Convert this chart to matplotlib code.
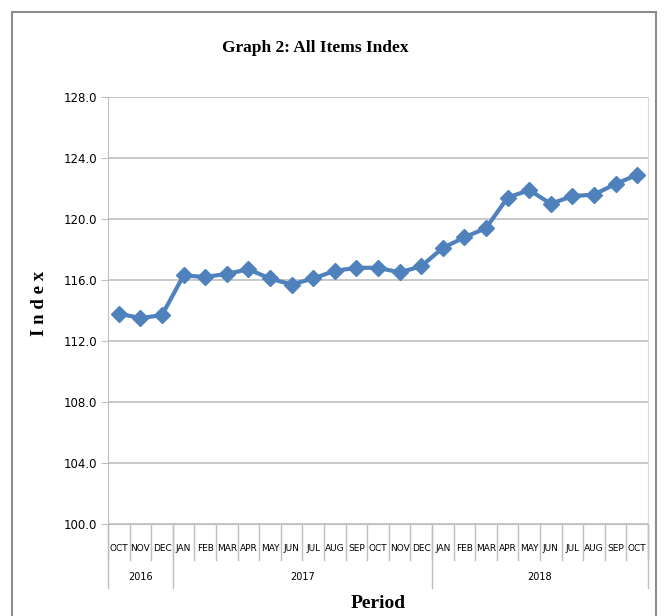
import matplotlib
matplotlib.use("Agg")
import matplotlib.pyplot as plt
import numpy as np
from matplotlib import font_manager
from matplotlib.patches import Rectangle
from matplotlib.transforms import blended_transform_factory

months = ["OCT", "NOV", "DEC", "JAN", "FEB", "MAR", "APR", "MAY", "JUN", "JUL", "AUG", "SEP",
          "OCT", "NOV", "DEC", "JAN", "FEB", "MAR", "APR", "MAY", "JUN", "JUL", "AUG", "SEP", "OCT"]
years = ["2016", "2017", "2018"]
year_counts = [3, 12, 10]
index_values = [113.8, 113.5, 113.7, 116.3, 116.2, 116.4, 116.7, 116.1, 115.7, 116.1, 116.6, 116.8,
                116.8, 116.5, 116.9, 118.1, 118.8, 119.4, 121.4, 121.9, 121.0, 121.5, 121.6, 122.3, 122.9]
yticks = [100.0, 104.0, 108.0, 112.0, 116.0, 120.0, 124.0, 128.0]

names = {f.name for f in font_manager.fontManager.ttflist}
narrow = "Liberation Sans Narrow" if "Liberation Sans Narrow" in names else "DejaVu Sans"
serif = "Liberation Serif"

fig = plt.figure(figsize=(6.68, 6.16), dpi=100)
W, H = 668, 616
ax = fig.add_axes([108 / W, 1 - 524 / H, 540 / W, 427 / H])

x = np.arange(len(index_values))
ax.plot(x, index_values, color="#4F81BD", lw=3, marker="D", markersize=8.5,
        markerfacecolor="#4F81BD", markeredgecolor="#4F81BD", zorder=3)

ax.set_xlim(-0.5, len(months) - 0.5)
ax.set_ylim(100, 128)
ax.set_yticks(yticks)
ax.set_yticklabels([f"{v:.1f}" for v in yticks], fontfamily=narrow, fontsize=8.5)
ax.yaxis.grid(True, color="#BFBFBF", lw=1.2)
ax.set_axisbelow(True)
ax.set_xticks([])
ax.spines["top"].set_visible(False)
ax.spines["right"].set_color("#D9D9D9")
ax.spines["left"].set_color("#BFBFBF")
ax.spines["bottom"].set_color("#BFBFBF")
ax.tick_params(axis="y", length=5, color="#BFBFBF", pad=3)

tr = blended_transform_factory(ax.transData, ax.transAxes)
sep_c = "#BFBFBF"
for i, m in enumerate(months):
    ax.text(i, -0.057, m, transform=tr, ha="center", va="center",
            fontfamily=narrow, fontsize=6.5)
for i in range(len(months) + 1):
    ax.plot([i - 0.5, i - 0.5], [0, -0.084], transform=tr, color=sep_c, lw=1, clip_on=False)
start = 0
for yl, c in zip(years, year_counts):
    ax.text(start + c / 2 - 0.5, -0.125, yl, transform=tr, ha="center", va="center",
            fontfamily=narrow, fontsize=7)
    ax.plot([start - 0.5, start - 0.5], [0, -0.150], transform=tr, color=sep_c, lw=1, clip_on=False)
    start += c
ax.plot([start - 0.5, start - 0.5], [0, -0.150], transform=tr, color=sep_c, lw=1, clip_on=False)

fig.text(315 / W, 1 - 48 / H, "Graph 2: All Items Index", ha="center", va="center",
         fontfamily=serif, fontweight="bold", fontsize=12.5)
fig.text(39 / W, 1 - 303 / H, "I n d e x", ha="center", va="center", rotation=90,
         fontfamily=serif, fontweight="bold", fontsize=13.5)
fig.text(378 / W, 1 - 603 / H, "Period", ha="center", va="center",
         fontfamily=serif, fontweight="bold", fontsize=14)

fig.patches.append(Rectangle((12 / W, -0.05), 644 / W, 1 - 12 / H + 0.05,
                             transform=fig.transFigure, fill=False, edgecolor="#8C8C8C", lw=1.5))

fig.savefig("out.png", dpi=100)
